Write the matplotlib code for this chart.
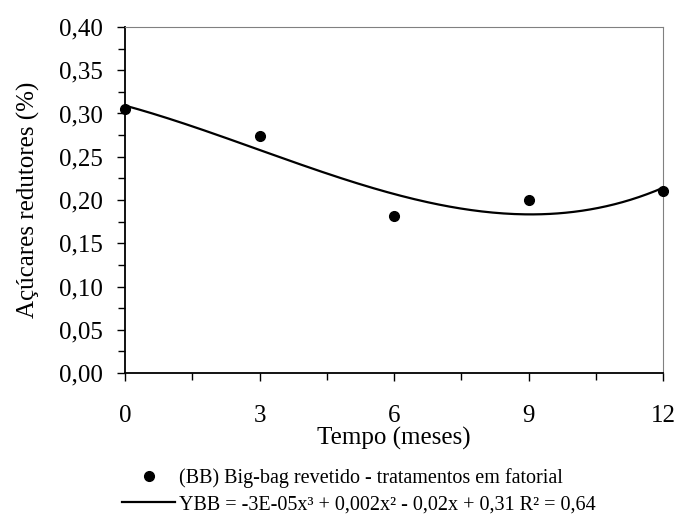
import matplotlib.pyplot as plt
import numpy as np
from matplotlib.lines import Line2D

plt.rcParams['font.family'] = ['Liberation Serif', 'DejaVu Serif']

# data
tempo = [0, 3, 6, 9, 12]
acucares = [0.305, 0.2745, 0.182, 0.200, 0.210]
label_pts = '(BB) Big-bag revetido - tratamentos em fatorial'
label_fit = 'YBB = -3E-05x³ + 0,002x² - 0,02x + 0,31 R² = 0,64'

# cubic trend line (as in the spreadsheet)
coef = np.polyfit(tempo, acucares, 3)
xs = np.linspace(0, 12, 200)
ys = np.polyval(coef, xs)

fig = plt.figure(figsize=(6.78, 5.15), dpi=100)
ax = fig.add_axes([0.1844, 0.2757, 0.7936, 0.6719])

ax.plot(xs, ys, color='black', lw=1.6, zorder=2)
ax.plot(tempo, acucares, 'o', color='black', ms=7, zorder=3, clip_on=False)

ax.set_xlim(0, 12)
ax.set_ylim(0, 0.40)
ax.set_xticks([0, 3, 6, 9, 12])
ax.set_xticks(np.arange(0, 12.1, 1.5), minor=True)
ax.set_yticks(np.arange(0, 0.401, 0.05))
ax.set_yticks(np.arange(0, 0.401, 0.025), minor=True)
ax.set_yticklabels([('%.2f' % v).replace('.', ',') for v in np.arange(0, 0.401, 0.05)])

ax.tick_params(which='both', direction='out', labelsize=18, width=1, color='black')
ax.tick_params(axis='x', which='major', length=6, pad=17)
ax.tick_params(axis='x', which='minor', length=4.7)
ax.tick_params(axis='y', which='major', length=6, pad=10)
ax.tick_params(axis='y', which='minor', length=4.7)

for s in ['left', 'bottom']:
    ax.spines[s].set_linewidth(1.3)
    ax.spines[s].set_color('black')
for s in ['top', 'right']:
    ax.spines[s].set_linewidth(0.8)
    ax.spines[s].set_color('#808080')

ax.set_xlabel('Tempo (meses)', fontsize=18, labelpad=0)
ax.set_ylabel('Açúcares redutores (%)', fontsize=18, labelpad=13.5)

handles = [Line2D([], [], marker='o', color='black', ls='none', ms=7),
           Line2D([], [], color='black', lw=1.6)]
fig.legend(handles, [label_pts, label_fit], loc='upper left',
           bbox_to_anchor=(0.18, 0.091), frameon=False, fontsize=14.5,
           handlelength=2.65, handletextpad=0.2, labelspacing=0.35,
           borderpad=0, borderaxespad=0)

plt.savefig('out.png')
